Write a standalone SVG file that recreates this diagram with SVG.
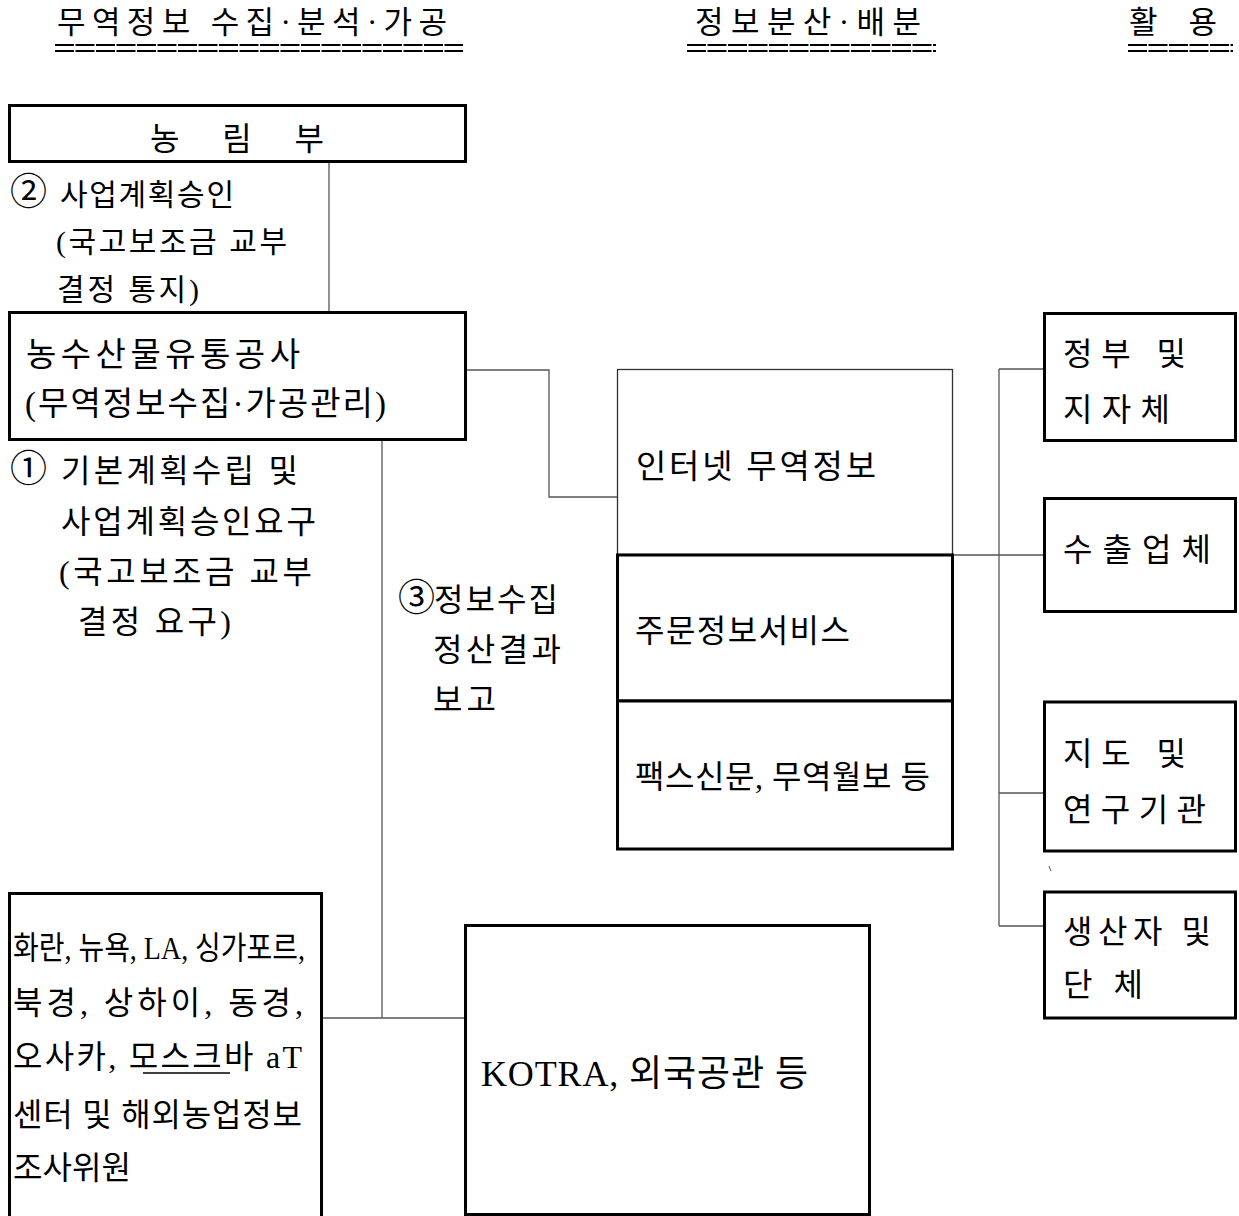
<svg xmlns="http://www.w3.org/2000/svg" width="1239" height="1216" viewBox="0 0 1239 1216">
<style>
text{font-family:"Liberation Serif","Noto Sans CJK KR",serif;font-size:32px;fill:#000;font-weight:400}
.hd{font-size:31px}
.a2{font-size:30px}
.an{font-size:32px}
.rb{font-size:32px}
.cd{font-size:37px}
.big{font-size:33px}
.kt{font-size:36px}
.box{fill:#fff;stroke:#000;stroke-width:3}
.thin{fill:#fff;stroke:#333;stroke-width:1.3}
.ul{stroke:#000;stroke-width:1.8;stroke-dasharray:19 1.5}
.cn{fill:none;stroke:#555;stroke-width:1.3}
</style>
<g id="headers">
<text class="hd" x="57" y="33" textLength="390" lengthAdjust="spacing">무역정보 수집·분석·가공</text>
<line class="ul" x1="55" y1="45" x2="463" y2="45"/><line class="ul" x1="55" y1="51" x2="463" y2="51"/>
<text class="hd" x="695" y="33" textLength="226" lengthAdjust="spacing">정보분산·배분</text>
<line class="ul" x1="687" y1="45" x2="936" y2="45"/><line class="ul" x1="687" y1="51" x2="936" y2="51"/>
<text class="hd" x="1129" y="33" textLength="88" lengthAdjust="spacing">활 용</text>
<line class="ul" x1="1128" y1="45" x2="1233" y2="45"/><line class="ul" x1="1128" y1="51" x2="1233" y2="51"/>
</g>
<g id="connectors">
<line class="cn" x1="329" y1="162" x2="329" y2="312"/>
<polyline class="cn" points="466,370 549,370 549,497 617,497"/>
<line class="cn" x1="382" y1="440" x2="382" y2="1018"/>
<line class="cn" x1="322" y1="1018" x2="465" y2="1018"/>
<line class="cn" x1="953" y1="555" x2="1044" y2="555"/>
<line class="cn" x1="999" y1="369" x2="999" y2="926"/>
<line class="cn" x1="999" y1="369" x2="1044" y2="369"/>
<line class="cn" x1="999" y1="793" x2="1044" y2="793"/>
<line class="cn" x1="999" y1="926" x2="1044" y2="926"/>
</g>
<g id="labels">
<text class="a2" y="205"><tspan class="cd" x="10">② </tspan><tspan x="60" textLength="174" lengthAdjust="spacing">사업계획승인</tspan></text>
<text class="a2" x="56" y="252" textLength="231" lengthAdjust="spacing">(국고보조금 교부</text>
<text class="a2" x="57" y="300" textLength="142" lengthAdjust="spacing">결정 통지)</text>
<text class="an" y="482"><tspan class="cd" x="10">① </tspan><tspan x="61" textLength="237" lengthAdjust="spacing">기본계획수립 및</tspan></text>
<text class="an" x="61" y="533" textLength="255" lengthAdjust="spacing">사업계획승인요구</text>
<text class="an" x="59" y="583" textLength="253" lengthAdjust="spacing">(국고보조금 교부</text>
<text class="an" x="78" y="633" textLength="153" lengthAdjust="spacing">결정 요구)</text>
<text class="an" y="611"><tspan class="cd" x="398">③</tspan><tspan x="434" textLength="124" lengthAdjust="spacing">정보수집</tspan></text>
<text class="an" x="433" y="661" textLength="128" lengthAdjust="spacing">정산결과</text>
<text class="an" x="433" y="711" textLength="63" lengthAdjust="spacing">보고</text>
</g>
<g id="n-nongrimbu">
<rect class="box" x="9.5" y="105.5" width="456" height="56"/>
<text x="150" y="150" textLength="174" lengthAdjust="spacing">농 림 부</text>
</g>
<g id="n-atcorp">
<rect class="box" x="9.5" y="312.5" width="456" height="127"/>
<text class="big" x="26" y="366" textLength="274" lengthAdjust="spacing">농수산물유통공사</text>
<text class="big" x="25" y="415" textLength="361" lengthAdjust="spacing">(무역정보수집·가공관리)</text>
</g>
<g id="n-internet">
<rect class="thin" x="617.5" y="369.5" width="335" height="185"/>
<text class="big" x="636" y="478" textLength="240" lengthAdjust="spacing">인터넷 무역정보</text>
</g>
<g id="n-order">
<rect class="box" x="617.5" y="555" width="335" height="146"/>
<text x="635" y="642" textLength="215" lengthAdjust="spacing">주문정보서비스</text>
</g>
<g id="n-fax">
<rect class="box" x="617.5" y="701" width="335" height="148"/>
<text x="635" y="788" textLength="295" lengthAdjust="spacing">팩스신문, 무역월보 등</text>
</g>
<g id="n-gov">
<rect class="box" x="1044.5" y="313.5" width="191" height="127"/>
<text class="rb" x="1063" y="365" textLength="123" lengthAdjust="spacing">정부 및</text>
<text class="rb" x="1063" y="421" textLength="107" lengthAdjust="spacing">지자체</text>
</g>
<g id="n-export">
<rect class="box" x="1044.5" y="498.5" width="191" height="113"/>
<text class="rb" x="1063" y="561" textLength="148" lengthAdjust="spacing">수출업체</text>
</g>
<g id="n-research">
<rect class="box" x="1044.5" y="702" width="191" height="149"/>
<text class="rb" x="1063" y="765" textLength="123" lengthAdjust="spacing">지도 및</text>
<text class="rb" x="1063" y="821" textLength="143" lengthAdjust="spacing">연구기관</text>
</g>
<line x1="1049" y1="866" x2="1051" y2="871" stroke="#555" stroke-width="1"/>
<g id="n-producer">
<rect class="box" x="1044.5" y="892" width="191" height="126"/>
<text class="rb" x="1063" y="943" textLength="148" lengthAdjust="spacing">생산자 및</text>
<text class="rb" x="1063" y="996" textLength="80" lengthAdjust="spacing">단체</text>
</g>
<g id="n-overseas">
<rect class="box" x="9.5" y="893.5" width="312" height="330"/>
<text x="13" y="959" textLength="292" lengthAdjust="spacingAndGlyphs">화란, 뉴욕, LA, 싱가포르,</text>
<text x="13" y="1014" textLength="290" lengthAdjust="spacing">북경, 상하이, 동경,</text>
<text x="13" y="1068" textLength="289" lengthAdjust="spacing">오사카, 모스크바 aT</text>
<line x1="143" y1="1073" x2="230" y2="1073" stroke="#000" stroke-width="1.5"/>
<text x="13" y="1126" textLength="289" lengthAdjust="spacing">센터 및 해외농업정보</text>
<text x="13" y="1179" textLength="118" lengthAdjust="spacingAndGlyphs">조사위원</text>
</g>
<g id="n-kotra">
<rect class="box" x="465.5" y="925.5" width="404" height="289"/>
<text class="kt" x="481" y="1086" textLength="327" lengthAdjust="spacing">KOTRA, 외국공관 등</text>
</g>
</svg>
